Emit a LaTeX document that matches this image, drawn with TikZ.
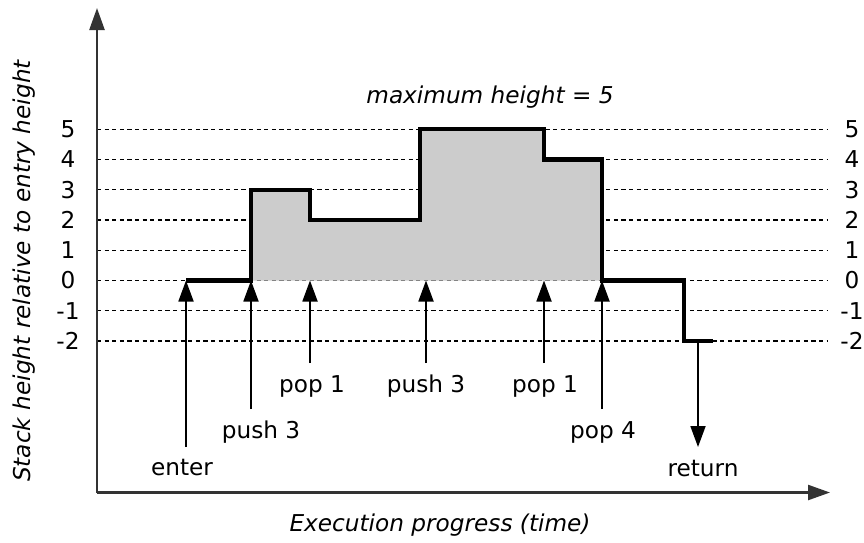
\documentclass[tikz,border=0pt]{standalone}
\usepackage{fontspec}
\setmainfont{DejaVu Sans}
\usetikzlibrary{arrows.meta}
\begin{document}
\begin{tikzpicture}[x=1pt,y=-1pt,
  font=\fontsize{23.2}{28}\selectfont,
  axisline/.style={line width=2.4pt,draw=black!80,-{Triangle[length=22pt,width=15pt]}},
  levelline/.style={line width=1.35pt,dash pattern=on 4.2pt off 3.4pt},
  stackline/.style={line width=4.3pt,line join=miter},
  eventarrow/.style={line width=1.8pt,-{Triangle[length=21pt,width=15pt]}},
  lbl/.style={inner sep=0pt,anchor=center},
  ttl/.style={inner sep=0pt,anchor=center,font=\fontsize{23.2}{28}\selectfont\itshape}]
\useasboundingbox (0,0) rectangle (864,542);

% stack levels (pixel rows of each height)
\def\yl#1{280.5-30.25*(#1)}

% dashed level lines and their labels on both sides
\foreach \h in {5,4,...,-2}{
  \draw[levelline] (97,{\yl{\h}}) -- (828,{\yl{\h}});
  \node[lbl] (l\h) at (68,{\yl{\h}}) {\h};
  \node[lbl] (r\h) at (852,{\yl{\h}}) {\h};
}

% shaded stack usage above the entry level
\fill[black!20] (251,{\yl{0}}) -- (251,{\yl{3}}) -- (310,{\yl{3}}) -- (310,{\yl{2}})
  -- (420,{\yl{2}}) -- (420,{\yl{5}}) -- (544,{\yl{5}}) -- (544,{\yl{4}})
  -- (602,{\yl{4}}) -- (602,{\yl{0}}) -- cycle;

% stack height over time
\draw[stackline] (186,{\yl{0}}) -- (251,{\yl{0}}) -- (251,{\yl{3}}) -- (310,{\yl{3}})
  -- (310,{\yl{2}}) -- (420,{\yl{2}}) -- (420,{\yl{5}}) -- (544,{\yl{5}})
  -- (544,{\yl{4}}) -- (602,{\yl{4}}) -- (602,{\yl{0}}) -- (684,{\yl{0}})
  -- (684,{\yl{-2}}) -- (713,{\yl{-2}});

% axes
\coordinate (origin) at (97,492.5);
\coordinate (ytip) at (97,8);
\coordinate (xtip) at (830,492.5);
\draw[axisline] (origin) -- (ytip);
\draw[axisline] (origin) -- (xtip);

% axis titles
\node[ttl,rotate=90] (ytitle) at (24,271) {Stack height relative to entry height};
\node[ttl] (xtitle) at (440,525) {Execution progress (time)};
\node[ttl] (maxh) at (490,97) {maximum height = 5};

% events
\node[lbl] (enter) at (182,468) {enter};
\node[lbl] (push1) at (261,432) {push 3};
\node[lbl] (pop1) at (312,386) {pop 1};
\node[lbl] (push2) at (426,386) {push 3};
\node[lbl] (pop2) at (545,386) {pop 1};
\node[lbl] (pop3) at (603,432) {pop 4};
\node[lbl] (ret) at (703,469) {return};

\coordinate (enterfoot) at (186,447);
\coordinate (entertip) at (186,{\yl{0}});
\coordinate (push1foot) at (251,409);
\coordinate (push1tip) at (251,{\yl{0}});
\coordinate (pop1foot) at (310,363);
\coordinate (pop1tip) at (310,{\yl{0}});
\coordinate (push2foot) at (426,363);
\coordinate (push2tip) at (426,{\yl{0}});
\coordinate (pop2foot) at (544,363);
\coordinate (pop2tip) at (544,{\yl{0}});
\coordinate (pop3foot) at (602,409);
\coordinate (pop3tip) at (602,{\yl{0}});
\coordinate (retstart) at (698,{\yl{-2}});
\coordinate (rettip) at (698,447);

\draw[eventarrow] (enterfoot) -- (entertip);
\draw[eventarrow] (push1foot) -- (push1tip);
\draw[eventarrow] (pop1foot) -- (pop1tip);
\draw[eventarrow] (push2foot) -- (push2tip);
\draw[eventarrow] (pop2foot) -- (pop2tip);
\draw[eventarrow] (pop3foot) -- (pop3tip);
\draw[eventarrow] (retstart) -- (rettip);
\end{tikzpicture}
\end{document}
